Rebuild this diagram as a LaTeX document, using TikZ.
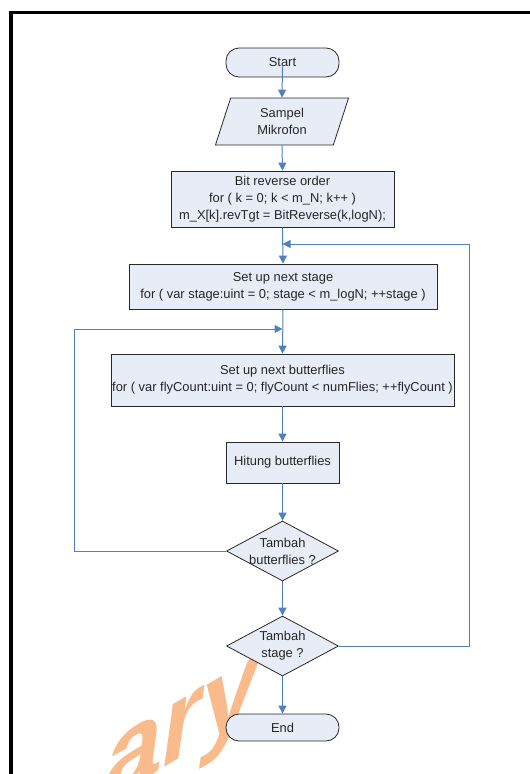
\documentclass[tikz,border=0pt]{standalone}
\usepackage{fontspec}
\setmainfont{Liberation Sans}
\usetikzlibrary{shapes.geometric,arrows.meta}
\definecolor{boxfill}{RGB}{231,236,247}
\definecolor{flowblue}{RGB}{79,129,189}
\definecolor{edgegray}{RGB}{40,40,40}
\definecolor{markorange}{RGB}{249,186,140}

\begin{document}
\begin{tikzpicture}[x=1pt,y=-1pt,
  txt/.style={font=\fontsize{12.9}{17}\selectfont, text=black!85},
  base/.style={txt, draw=edgegray, fill=boxfill, line width=0.8pt, inner sep=0pt, align=center},
  proc/.style={base, rectangle},
  term/.style={base, rectangle, rounded corners=13pt, minimum width=113pt},
  io/.style={base, trapezium, trapezium left angle=74.5, trapezium right angle=105.5,
    trapezium stretches=true},
  decide/.style={base, diamond, minimum width=112pt, minimum height=60pt},
  label/.style={txt, align=center, inner sep=0pt},
  flow/.style={draw=flowblue, line width=1pt, -{Triangle[length=8pt,width=8pt]}}
]
\useasboundingbox (0,0) rectangle (530,774);

% faded watermark behind the chart
\node[font=\bfseries\fontsize{120}{120}\selectfont, text=markorange, anchor=base west,
  inner sep=0pt, cm={0.86,0.51,0.14,0.99,(100,806)}] (wm) {ary};

% page frame
\draw[line width=3.5pt] (11,780) -- (11,12.5) -- (535,12.5);

% chart nodes
\node[term, minimum height=29pt] (start) at (282.5,62.5) {Start};
\node[io, minimum width=134pt, minimum height=47pt] (sampel) at (282,121.5) {Sampel\\Mikrofon};
\node[proc, minimum width=223pt, minimum height=56pt] (bitrev) at (282.5,199)
  {Bit reverse order\\for ( k = 0; k < m\_N; k++ )\\m\_X[k].revTgt = BitReverse(k,logN);};
\node[proc, minimum width=308pt, minimum height=45pt] (stage) at (283,286.5)
  {Set up next stage\\for ( var stage:uint = 0; stage < m\_logN; ++stage )};
\node[proc, minimum width=343pt, minimum height=52pt] (fly) at (282.5,380)
  {Set up next butterflies\\for ( var flyCount:uint = 0; flyCount < numFlies; ++flyCount )};
\node[proc, minimum width=113pt, minimum height=41pt] (hitung) at (282.5,462.5) {Hitung butterflies};
\node[decide] (d1) at (282.5,551) {};
\node[label] (d1t) at (d1.center) {Tambah\\butterflies ?};
\node[decide] (d2) at (282.5,646) {};
\node[label] (d2t) at (d2.center) {Tambah\\stage ?};
\node[term, minimum height=27pt] (end) at (282.5,727.5) {End};

% loop corners
\coordinate (j1) at (282.5,244);
\coordinate (j2) at (282.5,329);
\coordinate (rtop) at (469,244);
\coordinate (rbot) at (469,646);
\coordinate (ltop) at (74,329);
\coordinate (lbot) at (74,551);

% connectors
\draw[flow] ([yshift=-4pt]start.center) -- (sampel.north);
\draw[flow] (sampel.south) -- (bitrev.north);
\draw[flow] (bitrev.south) -- (stage.north);
\draw[flow] (stage.south) -- (fly.north);
\draw[flow] (fly.south) -- (hitung.north);
\draw[flow] (hitung.south) -- (d1.north);
\draw[flow] (d1.south) -- (d2.north);
\draw[flow] (d2.south) -- (end.north);
\draw[flow] (d2.east) -- (rbot) -- (rtop) -- (j1);
\draw[flow] (d1.west) -- (lbot) -- (ltop) -- (j2);
\end{tikzpicture}
\end{document}
